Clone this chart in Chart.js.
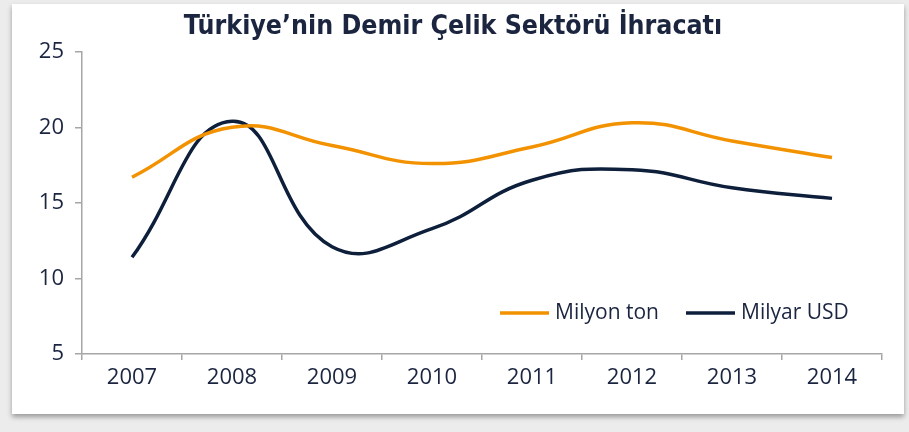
<!DOCTYPE html>
<html>
<head>
<meta charset="utf-8">
<script src="https://cdn.jsdelivr.net/npm/chart.js@4"></script>
<style>
  body { margin:0; background:#ececec; width:909px; height:432px; overflow:hidden; position:relative; }
  #panel { position:absolute; left:12px; top:4px; width:892px; height:410px; background:#fff;
           box-shadow:0 3px 5px rgba(0,0,0,0.35); }
  #wrap { position:absolute; left:0; top:0; width:909px; height:432px; }
</style>
</head>
<body>
<div id="panel"></div>
<div id="wrap"><canvas id="myChart" width="909" height="432"></canvas></div>
<script>
// veriler
const yillar = ['2007','2008','2009','2010','2011','2012','2013','2014']
const milyonTon = [16.7, 20.0, 18.8, 17.6, 18.7, 20.3, 19.1, 18.0]
const milyarUSD = [11.4, 20.4, 12.1, 13.3, 16.5, 17.2, 16.0, 15.3]
const seriAdlari = ['Milyon ton', 'Milyar USD']
const baslik = 'Türkiye\u2019nin Demir Çelik Sektörü İhracatı'

const turuncu = '#f39200'
const lacivert = '#0e1f3b'
const yaziRengi = '#1b2540'
const eksenRengi = '#a6a6a6'

// legend inside the plot area, bottom right
const icLegend = {
    id: 'icLegend',
    afterDraw(chart) {
        const ctx = chart.ctx
        const area = chart.chartArea
        const y = area.bottom - 41
        const starts = [area.left + 418, area.left + 604]
        ctx.save()
        ctx.font = '21px "Open Sans"'
        ctx.textBaseline = 'middle'
        chart.data.datasets.forEach((ds, i) => {
            const x = starts[i]
            ctx.strokeStyle = ds.borderColor
            ctx.lineWidth = 3.5
            ctx.beginPath()
            ctx.moveTo(x, y)
            ctx.lineTo(x + 49, y)
            ctx.stroke()
            ctx.fillStyle = yaziRengi
            ctx.fillText(ds.label, x + 55, y)
        })
        ctx.restore()
    }
}

const config = {
    type: 'line',
    data: {
        labels: yillar,
        datasets: [
            {
                label: seriAdlari[0],
                data: milyonTon,
                borderColor: turuncu,
                backgroundColor: turuncu,
                borderWidth: 3.5,
                tension: 0.45,
                pointRadius: 0
            },
            {
                label: seriAdlari[1],
                data: milyarUSD,
                borderColor: lacivert,
                backgroundColor: lacivert,
                borderWidth: 3.5,
                tension: 0.45,
                pointRadius: 0
            }
        ]
    },
    options: {
        responsive: false,
        animation: false,
        layout: { padding: { left: 24, right: 27, top: 0, bottom: 0 } },
        plugins: {
            legend: { display: false },
            tooltip: { enabled: false },
            title: {
                display: true,
                text: baslik,
                color: yaziRengi,
                font: { family: '"DejaVu Sans Condensed", "DejaVu Sans"', size: 26.5, weight: 'bold', lineHeight: 1.2 },
                padding: { top: 11, bottom: 9 }
            }
        },
        scales: {
            x: {
                offset: true,
                grid: { offset: true, drawOnChartArea: false, color: eksenRengi, tickLength: 6, lineWidth: 1.5 },
                border: { color: eksenRengi, width: 1.5 },
                ticks: { color: yaziRengi, font: { family: '"Open Sans"', size: 22 }, padding: 5 },
                afterFit: s => { s.height = 78 }
            },
            y: {
                min: 5,
                max: 25,
                ticks: { stepSize: 5, color: yaziRengi, font: { family: '"Open Sans"', size: 22 }, padding: 11 },
                grid: { drawOnChartArea: false, color: eksenRengi, tickLength: 7, lineWidth: 1.5 },
                border: { color: eksenRengi, width: 1.5 },
                afterFit: s => { s.width = 58 }
            }
        }
    },
    plugins: [icLegend]
}
var myChart = new Chart(document.getElementById('myChart'), config)
</script>
</body>
</html>
